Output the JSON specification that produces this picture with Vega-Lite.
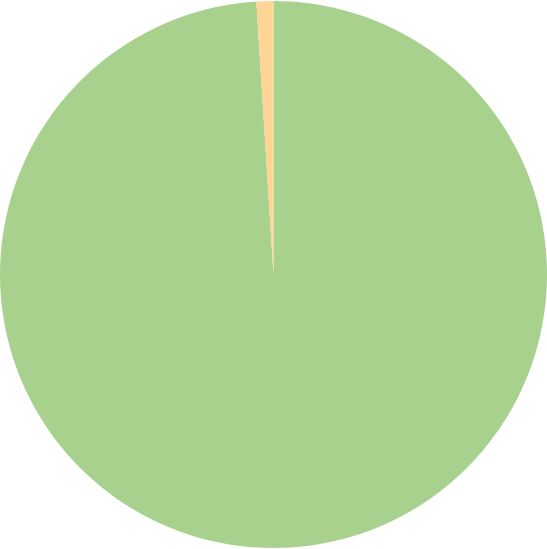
{
  "$schema": "https://vega.github.io/schema/vega-lite/v6.json",
  "width": 547,
  "height": 549,
  "autosize": {"type": "fit", "contains": "padding"},
  "padding": 0,
  "background": "white",
  "view": {"stroke": null},
  "data": {"values": [
    {"category": "A", "value": 99, "rank": 1},
    {"category": "B", "value": 1, "rank": 2}
  ]},
  "mark": {"type": "arc", "stroke": null},
  "encoding": {
    "theta": {"field": "value", "type": "quantitative", "stack": true},
    "order": {"field": "rank", "type": "quantitative"},
    "color": {"field": "category", "type": "nominal", "legend": null,
      "scale": {"domain": ["A", "B"], "range": ["#a9d18e", "#ffd596"]}}
  }
}
